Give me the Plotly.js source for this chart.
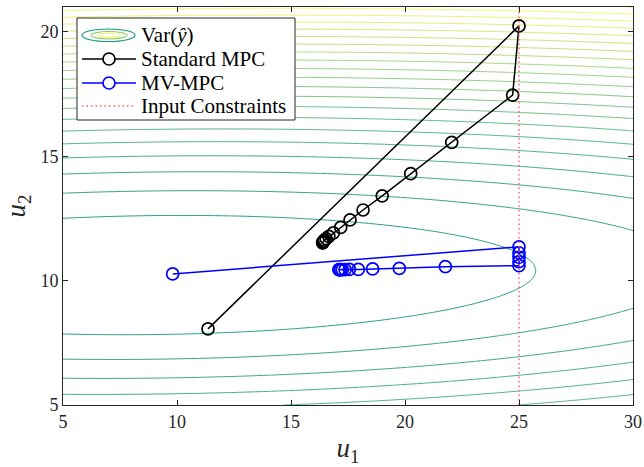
<!DOCTYPE html>
<html>
<head>
<meta charset="utf-8">
<script src="https://cdn.plot.ly/plotly-3.0.1.min.js"></script>
<style>html,body{margin:0;padding:0;background:#fff;}#chart{width:644px;height:467px;}</style>
</head>
<body>
<div id="chart"></div>
<script>
// ---- Trajectories ----
const stdU1 = [11.36, 25.0, 24.72, 22.05, 20.25, 19.0, 18.16, 17.59, 17.18, 16.86, 16.66, 16.54, 16.47, 16.43, 16.41, 16.40, 16.39, 16.39];
const stdU2 = [8.06, 20.24, 17.46, 15.56, 14.30, 13.41, 12.84, 12.44, 12.14, 11.92, 11.78, 11.69, 11.63, 11.59, 11.56, 11.54, 11.53, 11.52];
const mvU1 = [9.81, 25, 25, 25, 25, 25, 21.77, 19.75, 18.58, 17.95, 17.56, 17.37, 17.25, 17.18, 17.14, 17.12, 17.1];
const mvU2 = [10.27, 11.36, 11.12, 10.94, 10.76, 10.6, 10.56, 10.49, 10.47, 10.45, 10.45, 10.44, 10.44, 10.44, 10.44, 10.44, 10.44];

// ---- Input constraint and axes ----
const u1Max = 25;
const xRange = [5, 30];
const yRange = [5, 21];
const xTicks = [5, 10, 15, 20, 25, 30];
const yTicks = [5, 10, 15, 20];

// ---- Legend labels ----
const legendLabels = ['Var(<i>ŷ</i>)', 'Standard MPC', 'MV-MPC', 'Input Constraints'];

// ---- Var(y-hat) quadratic surface (fitted to the drawn contours) ----
const varCenterU1 = 8.96;
const varMidAt5 = 10.18;
const varMidSlope = 0.0108;
const varCurvU1 = 0.02033;
const varLevelStep = 5.72;
const varLevelCount = 24;

const gx = [], gy = [];
for (let i = 0; i <= 250; i++) gx.push(xRange[0] + (xRange[1] - xRange[0]) * i / 250);
for (let j = 0; j <= 200; j++) gy.push(yRange[0] + (yRange[1] - yRange[0]) * j / 200);
const Z = gy.map(v => gx.map(u => {
  const m = varMidAt5 + varMidSlope * (u - 5);
  return (v - m) * (v - m) + varCurvU1 * (u - varCenterU1) * (u - varCenterU1);
}));

const serif = 'Liberation Serif, Times New Roman, serif';
const axisCol = '#262626';
const stdCol = '#000000';
const mvCol = '#0000ff';
const conCol = '#ff5c5c';
const conDash = '1.5px,3px';

const traces = [
  {
    type: 'contour', x: gx, y: gy, z: Z,
    contours: {coloring: 'lines', start: varLevelStep, end: varLevelStep * varLevelCount, size: varLevelStep},
    line: {width: 0.9, smoothing: 1},
    colorscale: [[0, '#0c9276'], [0.5, '#7cc376'], [1, '#f7f760']],
    zauto: false, zmin: 0, zmax: 120,
    showscale: false, showlegend: false, hoverinfo: 'skip'
  },
  {type: 'scatter', x: stdU1, y: stdU2, mode: 'lines+markers', name: legendLabels[1], showlegend: false,
   line: {color: stdCol, width: 1.5},
   marker: {symbol: 'circle-open', size: 12, color: stdCol, line: {width: 1.7}}},
  {type: 'scatter', x: mvU1, y: mvU2, mode: 'lines+markers', name: legendLabels[2], showlegend: false,
   line: {color: mvCol, width: 1.5},
   marker: {symbol: 'circle-open', size: 12, color: mvCol, line: {width: 1.7}}},
  {type: 'scatter', x: [u1Max, u1Max], y: yRange, mode: 'lines', name: legendLabels[3], showlegend: false,
   line: {color: conCol, width: 1.4, dash: conDash}}
];

// pixel helpers for the legend decoration (paper coords)
const L = 63, R = 633, T = 7, B = 405;
const px = p => (p - L) / (R - L);
const py = p => (B - p) / (B - T);

const rowY = [35, 59, 83, 106];
const symX0 = 82, symX1 = 136, symXc = 109, txtX = 139;

const shapes = [
  {type: 'rect', xref: 'paper', yref: 'paper', x0: px(77), x1: px(295), y0: py(120), y1: py(18),
   fillcolor: '#ffffff', line: {color: axisCol, width: 1}, layer: 'above'},
  // Var icon: concentric ellipses
  {type: 'circle', xref: 'paper', yref: 'paper', x0: px(82), x1: px(135), y0: py(rowY[0] + 6.5), y1: py(rowY[0] - 6),
   line: {color: '#169a7e', width: 1.1}, layer: 'above'},
  {type: 'circle', xref: 'paper', yref: 'paper', x0: px(91), x1: px(127), y0: py(rowY[0] + 4), y1: py(rowY[0] - 3.5),
   line: {color: '#8fcc70', width: 1.1}, layer: 'above'},
  {type: 'circle', xref: 'paper', yref: 'paper', x0: px(98), x1: px(120), y0: py(rowY[0] + 2.2), y1: py(rowY[0] - 1.8),
   line: {color: '#f4f45e', width: 1.1}, layer: 'above'},
  // Standard MPC
  {type: 'line', xref: 'paper', yref: 'paper', x0: px(symX0), x1: px(symX1), y0: py(rowY[1]), y1: py(rowY[1]),
   line: {color: stdCol, width: 1.6}, layer: 'above'},
  {type: 'circle', xref: 'paper', yref: 'paper', x0: px(symXc - 6), x1: px(symXc + 6), y0: py(rowY[1] + 6), y1: py(rowY[1] - 6),
   fillcolor: '#ffffff', line: {color: stdCol, width: 1.7}, layer: 'above'},
  // MV-MPC
  {type: 'line', xref: 'paper', yref: 'paper', x0: px(symX0), x1: px(symX1), y0: py(rowY[2]), y1: py(rowY[2]),
   line: {color: mvCol, width: 1.6}, layer: 'above'},
  {type: 'circle', xref: 'paper', yref: 'paper', x0: px(symXc - 6), x1: px(symXc + 6), y0: py(rowY[2] + 6), y1: py(rowY[2] - 6),
   fillcolor: '#ffffff', line: {color: mvCol, width: 1.7}, layer: 'above'},
  // Input constraints
  {type: 'line', xref: 'paper', yref: 'paper', x0: px(symX0), x1: px(symX1), y0: py(rowY[3]), y1: py(rowY[3]),
   line: {color: conCol, width: 1.4, dash: conDash}, layer: 'above'}
];

const annotations = legendLabels.map((t, i) => ({
  xref: 'paper', yref: 'paper', x: px(txtX), y: py(rowY[i]), xanchor: 'left', yanchor: 'middle',
  text: t, showarrow: false, font: {family: serif, size: 21, color: '#000000'}
}));

const layout = {
  width: 644, height: 467,
  margin: {l: L, r: 644 - R, t: T, b: 467 - B},
  paper_bgcolor: '#ffffff', plot_bgcolor: '#ffffff',
  font: {family: serif, color: axisCol, size: 18},
  showlegend: false,
  xaxis: {range: xRange, tickvals: xTicks, ticktext: xTicks.map(String), ticks: 'inside', ticklen: 5,
          tickcolor: axisCol, showline: true, linecolor: axisCol, linewidth: 1, mirror: 'ticks',
          showgrid: false, zeroline: false,
          tickfont: {family: serif, size: 18, color: axisCol},
          title: {text: '<i>u</i><sub>1</sub>', font: {family: serif, size: 27, color: axisCol}, standoff: 7}},
  yaxis: {range: yRange, tickvals: yTicks, ticktext: yTicks.map(String), ticks: 'inside', ticklen: 5,
          tickcolor: axisCol, showline: true, linecolor: axisCol, linewidth: 1, mirror: 'ticks',
          showgrid: false, zeroline: false,
          tickfont: {family: serif, size: 18, color: axisCol},
          title: {text: '<i>u</i><sub>2</sub>', font: {family: serif, size: 27, color: axisCol}, standoff: 6}},
  shapes: shapes,
  annotations: annotations
};

Plotly.newPlot('chart', traces, layout, {displayModeBar: false, staticPlot: true});
</script>
</body>
</html>
